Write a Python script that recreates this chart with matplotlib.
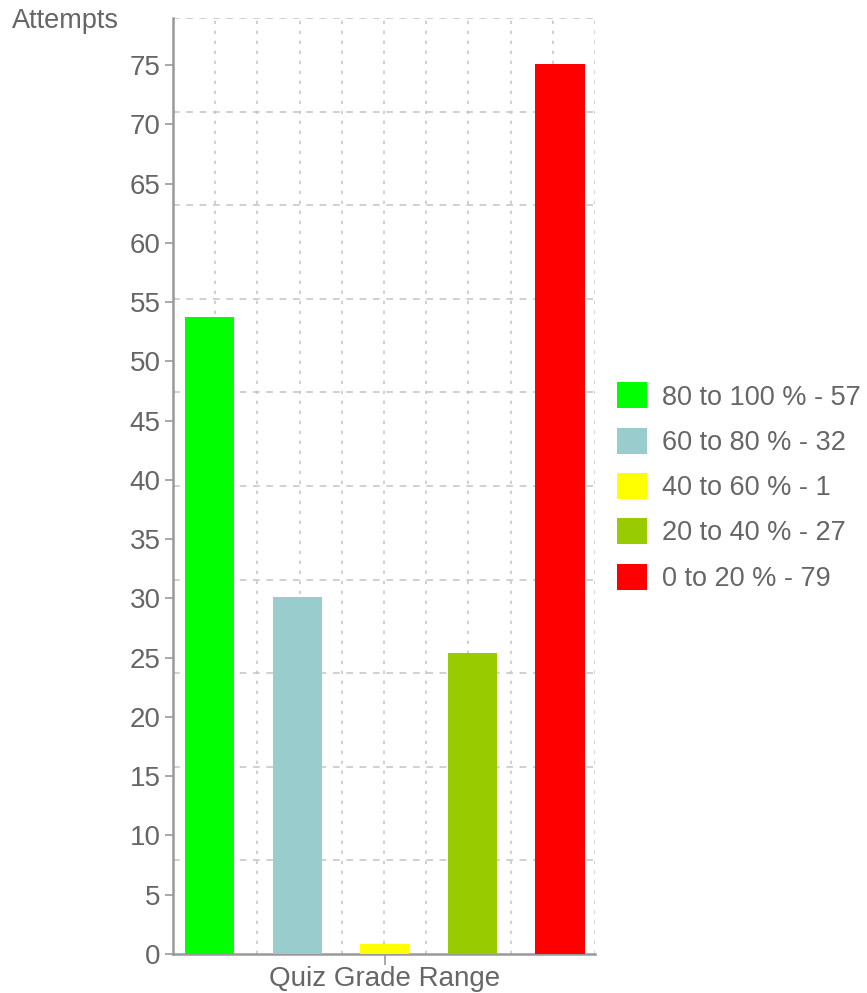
import numpy as np
import matplotlib.pyplot as plt
from matplotlib.patches import Patch

plt.rcParams['font.family'] = ['Liberation Sans', 'DejaVu Sans']

# values (axis units), legend labels as printed
ranges = ['80 to 100 %', '60 to 80 %', '40 to 60 %', '20 to 40 %', '0 to 20 %']
counts = [57, 32, 1, 27, 79]
heights = [53.7, 30.1, 0.84, 25.4, 75.1]
colors = ['#00ff00', '#99cccc', '#ffff00', '#99cc00', '#ff0000']
y_ticks = list(range(0, 80, 5))
y_top = 78.97

txt = '#666666'
fig = plt.figure(figsize=(8.67, 9.93), dpi=100)
ax = fig.add_axes([0.1995, 0.0393, 0.4868, 0.9426])

x = np.arange(len(ranges))
xlim = (-0.417, 4.4)
ax.bar(x, heights, width=0.56, color=colors, zorder=3)

ax.set_xlim(*xlim)
ax.set_ylim(0, y_top)

# grid: 10 divisions each way, independent of the ticks
for gx in np.linspace(xlim[0], xlim[1], 11)[1:]:
    ax.axvline(gx, color='#c8c8c8', lw=1.2, ls=(0, (2, 4)), zorder=1)
for gy in np.linspace(0, y_top, 11)[1:]:
    ax.axhline(gy, color='#c8c8c8', lw=1.2, ls=(0, (4, 4)), zorder=1)

ax.set_yticks(y_ticks)
ax.set_xticks([2])
ax.set_xticklabels(['Quiz Grade Range'])
ax.tick_params(axis='y', colors='#999999', labelcolor=txt, labelsize=20,
               length=6, width=1.2, pad=3)
ax.tick_params(axis='x', colors='#999999', labelcolor=txt, labelsize=20,
               length=8, width=1.2, pad=1)

for s in ['top', 'right']:
    ax.spines[s].set_visible(False)
for s in ['left', 'bottom']:
    ax.spines[s].set_color('#999999')
    ax.spines[s].set_linewidth(1.8)

fig.text(0.014, 0.979, 'Attempts', color=txt, fontsize=19.5, ha='left', va='center')

handles = [Patch(facecolor=c, edgecolor='none') for c in colors]
labels = [f'{r} - {n}' for r, n in zip(ranges, counts)]
leg = fig.legend(handles, labels, loc='center left', bbox_to_anchor=(0.7116, 0.5095),
                 frameon=False, fontsize=19.5, handlelength=1.1, handleheight=1.1,
                 handletextpad=0.55, labelspacing=0.63, borderaxespad=0,
                 borderpad=0)
for t in leg.get_texts():
    t.set_color(txt)

fig.savefig('out.png', dpi=100)
